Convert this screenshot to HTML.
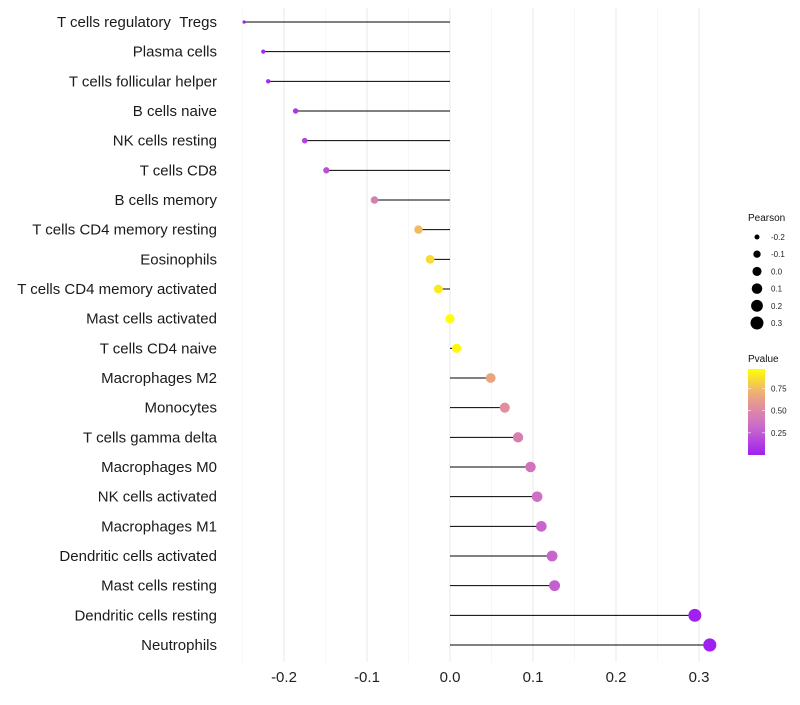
<!DOCTYPE html>
<html><head><meta charset="utf-8"><style>
body{margin:0;background:#fff;font-family:"Liberation Sans",sans-serif}
svg text{font-family:"Liberation Sans",sans-serif}
</style></head><body>
<svg id="c" width="800" height="700"></svg>
<script>
const categories=["T cells regulatory \u00a0Tregs","Plasma cells","T cells follicular helper","B cells naive","NK cells resting","T cells CD8","B cells memory","T cells CD4 memory resting","Eosinophils","T cells CD4 memory activated","Mast cells activated","T cells CD4 naive","Macrophages M2","Monocytes","T cells gamma delta","Macrophages M0","NK cells activated","Macrophages M1","Dendritic cells activated","Mast cells resting","Dendritic cells resting","Neutrophils"];
const pearson=[-0.248,-0.225,-0.219,-0.186,-0.175,-0.149,-0.091,-0.038,-0.024,-0.014,0.0,0.008,0.049,0.066,0.082,0.097,0.105,0.110,0.123,0.126,0.295,0.313];
const pvalue=[0.0,0.05,0.05,0.1,0.15,0.2,0.45,0.75,0.85,0.9,0.99,0.95,0.65,0.55,0.45,0.38,0.35,0.3,0.3,0.28,0.0,0.0];
const xTicks=[-0.2,-0.1,0.0,0.1,0.2,0.3];
const xTickLabels=["-0.2","-0.1","0.0","0.1","0.2","0.3"];
const minorTicks=[-0.25,-0.15,-0.05,0.05,0.15,0.25];
const legendSizes=[-0.2,-0.1,0.0,0.1,0.2,0.3];
const legendSizeLabels=["-0.2","-0.1","0.0","0.1","0.2","0.3"];
const colorTicks=[0.25,0.5,0.75];
const colorTickLabels=["0.25","0.50","0.75"];

const svg=document.getElementById('c');const NS="http://www.w3.org/2000/svg";
function mk(t,a,p){const e=document.createElementNS(NS,t);for(const k in a)e.setAttribute(k,a[k]);(p||svg).appendChild(e);return e;}
const x=v=>450+v*830;
const y=i=>22+i*(623/21);
const r=v=>Math.sqrt(Math.max(1.5,20.65+72*v));
const stops=[[0,[160,32,240]],[0.35,[205,110,200]],[0.55,[225,140,160]],[0.75,[240,180,110]],[1,[255,255,0]]];
function col(p){p=Math.max(0,Math.min(1,p/0.97));for(let i=1;i<stops.length;i++){if(p<=stops[i][0]){const a=stops[i-1],b=stops[i],t=(p-a[0])/(b[0]-a[0]);const c=a[1].map((v,k)=>Math.round(v+(b[1][k]-v)*t));return `rgb(${c})`;}}return 'rgb(255,255,0)';}
const panelTop=8,panelBottom=662;
minorTicks.forEach(v=>{const l=mk('line',{x1:x(v),x2:x(v),y1:panelTop,y2:panelBottom,stroke:'#f2f2f2','stroke-width':0.6});

});
xTicks.forEach((v,i)=>{const l=mk('line',{x1:x(v),x2:x(v),y1:panelTop,y2:panelBottom,stroke:'#ebebeb','stroke-width':1.1});


const t=mk('text',{x:x(v),y:682,'text-anchor':'middle','font-size':15,fill:'#222'});t.textContent=xTickLabels[i];

});
categories.forEach((c,i)=>{const yy=y(i);
const t=mk('text',{x:217,y:yy+5,'text-anchor':'end','font-size':15,fill:'#1a1a1a'});t.textContent=c;


const l=mk('line',{x1:x(0),x2:x(pearson[i]),y1:yy,y2:yy,stroke:'#000','stroke-width':1});


const d=mk('circle',{cx:x(pearson[i]),cy:yy,r:r(pearson[i]),fill:col(pvalue[i])});

});
const lt=mk('text',{x:748,y:221,'font-size':10,fill:'#111'});lt.textContent='Pearson';


legendSizes.forEach((v,i)=>{const yy=237+i*17.2;
const c=mk('circle',{cx:757,cy:yy,r:r(v),fill:'#000'});


const t=mk('text',{x:771,y:yy+3,'font-size':8,fill:'#222'});t.textContent=legendSizeLabels[i];

});
const pt=mk('text',{x:748,y:362,'font-size':10,fill:'#111'});pt.textContent='Pvalue';


const defs=mk('defs',{});const g=mk('linearGradient',{id:'gr',x1:0,y1:1,x2:0,y2:0},defs);
for(let k=0;k<=10;k++)mk('stop',{offset:k/10,'stop-color':col(k/10*0.97)},g);
const cb=mk('rect',{x:748,y:369,width:17,height:86,fill:'url(#gr)'});


colorTicks.forEach((v,i)=>{const yy=455-v/0.97*86;
mk('line',{x1:748,x2:751,y1:yy,y2:yy,stroke:'#fff','stroke-width':0.6});mk('line',{x1:762,x2:765,y1:yy,y2:yy,stroke:'#fff','stroke-width':0.6});
const t=mk('text',{x:771,y:yy+3,'font-size':8,fill:'#222'});t.textContent=colorTickLabels[i];

});
</script></body></html>
